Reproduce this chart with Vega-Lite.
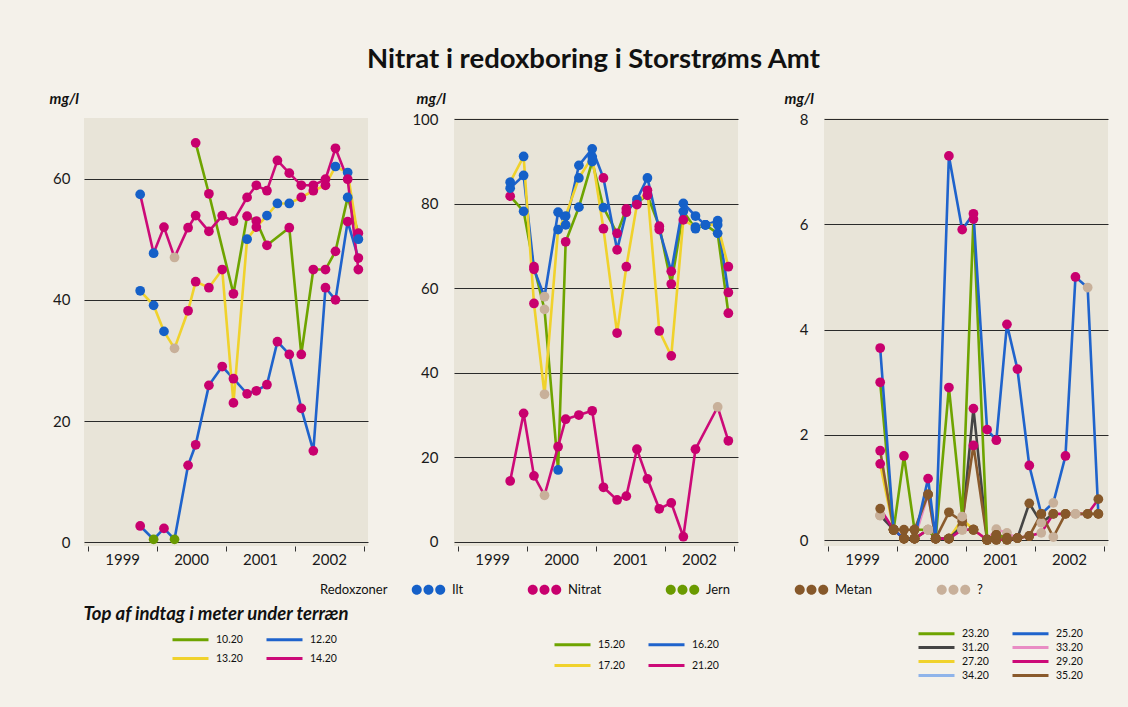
{
  "$schema": "https://vega.github.io/schema/vega-lite/v6.json",
  "background": "#f4f1ea",
  "padding": {"left": 49, "top": 45, "right": 20, "bottom": 30},
  "title": {"text": "Nitrat i redoxboring i Storstrøms Amt", "font": "Lato", "fontSize": 27.5, "fontWeight": "bold", "color": "#111111", "anchor": "middle", "offset": 18},
  "datasets": {
    "p1": [
      {"dybde":"10.20","tid":2000.56,"mgl":65.9,"zone":"Nitrat"},
      {"dybde":"10.20","tid":2000.752,"mgl":57.5,"zone":"Nitrat"},
      {"dybde":"10.20","tid":2001.108,"mgl":41.0,"zone":"Nitrat"},
      {"dybde":"10.20","tid":2001.306,"mgl":53.8,"zone":"Nitrat"},
      {"dybde":"10.20","tid":2001.44,"mgl":53.0,"zone":"Nitrat"},
      {"dybde":"10.20","tid":2001.594,"mgl":49.0,"zone":"Nitrat"},
      {"dybde":"10.20","tid":2001.918,"mgl":51.9,"zone":"Nitrat"},
      {"dybde":"10.20","tid":2002.092,"mgl":31.0,"zone":"Nitrat"},
      {"dybde":"10.20","tid":2002.267,"mgl":45.0,"zone":"Nitrat"},
      {"dybde":"10.20","tid":2002.443,"mgl":45.0,"zone":"Nitrat"},
      {"dybde":"10.20","tid":2002.588,"mgl":48.0,"zone":"Nitrat"},
      {"dybde":"10.20","tid":2002.765,"mgl":56.9,"zone":"Ilt"},
      {"dybde":"10.20","tid":2002.92,"mgl":51.0,"zone":"Nitrat"},
      {"dybde":"12.20","tid":1999.755,"mgl":2.7,"zone":"Nitrat"},
      {"dybde":"12.20","tid":1999.95,"mgl":0.5,"zone":"Jern"},
      {"dybde":"12.20","tid":2000.1,"mgl":2.3,"zone":"Nitrat"},
      {"dybde":"12.20","tid":2000.253,"mgl":0.5,"zone":"Jern"},
      {"dybde":"12.20","tid":2000.45,"mgl":12.7,"zone":"Nitrat"},
      {"dybde":"12.20","tid":2000.56,"mgl":16.1,"zone":"Nitrat"},
      {"dybde":"12.20","tid":2000.752,"mgl":25.9,"zone":"Nitrat"},
      {"dybde":"12.20","tid":2000.945,"mgl":29.0,"zone":"Nitrat"},
      {"dybde":"12.20","tid":2001.108,"mgl":27.0,"zone":"Nitrat"},
      {"dybde":"12.20","tid":2001.306,"mgl":24.5,"zone":"Nitrat"},
      {"dybde":"12.20","tid":2001.44,"mgl":25.0,"zone":"Nitrat"},
      {"dybde":"12.20","tid":2001.594,"mgl":26.0,"zone":"Nitrat"},
      {"dybde":"12.20","tid":2001.746,"mgl":33.1,"zone":"Nitrat"},
      {"dybde":"12.20","tid":2001.918,"mgl":31.0,"zone":"Nitrat"},
      {"dybde":"12.20","tid":2002.092,"mgl":22.1,"zone":"Nitrat"},
      {"dybde":"12.20","tid":2002.267,"mgl":15.1,"zone":"Nitrat"},
      {"dybde":"12.20","tid":2002.443,"mgl":42.0,"zone":"Nitrat"},
      {"dybde":"12.20","tid":2002.588,"mgl":40.0,"zone":"Nitrat"},
      {"dybde":"12.20","tid":2002.765,"mgl":52.9,"zone":"Nitrat"},
      {"dybde":"12.20","tid":2002.92,"mgl":46.9,"zone":"Nitrat"},
      {"dybde":"13.20","tid":1999.755,"mgl":41.5,"zone":"Ilt"},
      {"dybde":"13.20","tid":1999.95,"mgl":39.1,"zone":"Ilt"},
      {"dybde":"13.20","tid":2000.1,"mgl":34.8,"zone":"Ilt"},
      {"dybde":"13.20","tid":2000.253,"mgl":32.0,"zone":"?"},
      {"dybde":"13.20","tid":2000.45,"mgl":38.2,"zone":"Nitrat"},
      {"dybde":"13.20","tid":2000.56,"mgl":43.0,"zone":"Nitrat"},
      {"dybde":"13.20","tid":2000.752,"mgl":42.0,"zone":"Nitrat"},
      {"dybde":"13.20","tid":2000.945,"mgl":45.0,"zone":"Nitrat"},
      {"dybde":"13.20","tid":2001.108,"mgl":23.0,"zone":"Nitrat"},
      {"dybde":"13.20","tid":2001.306,"mgl":50.0,"zone":"Ilt"},
      {"dybde":"13.20","tid":2001.44,"mgl":52.0,"zone":"Nitrat"},
      {"dybde":"13.20","tid":2001.594,"mgl":53.9,"zone":"Ilt"},
      {"dybde":"13.20","tid":2001.746,"mgl":55.9,"zone":"Ilt"},
      {"dybde":"13.20","tid":2001.918,"mgl":55.9,"zone":"Ilt"},
      {"dybde":"13.20","tid":2002.092,"mgl":56.9,"zone":"Nitrat"},
      {"dybde":"13.20","tid":2002.267,"mgl":58.0,"zone":"Nitrat"},
      {"dybde":"13.20","tid":2002.443,"mgl":58.9,"zone":"Nitrat"},
      {"dybde":"13.20","tid":2002.588,"mgl":62.0,"zone":"Ilt"},
      {"dybde":"13.20","tid":2002.765,"mgl":61.0,"zone":"Ilt"},
      {"dybde":"13.20","tid":2002.92,"mgl":50.0,"zone":"Ilt"},
      {"dybde":"14.20","tid":1999.755,"mgl":57.4,"zone":"Ilt"},
      {"dybde":"14.20","tid":1999.95,"mgl":47.7,"zone":"Ilt"},
      {"dybde":"14.20","tid":2000.1,"mgl":52.0,"zone":"Nitrat"},
      {"dybde":"14.20","tid":2000.253,"mgl":47.0,"zone":"?"},
      {"dybde":"14.20","tid":2000.45,"mgl":51.9,"zone":"Nitrat"},
      {"dybde":"14.20","tid":2000.56,"mgl":53.9,"zone":"Nitrat"},
      {"dybde":"14.20","tid":2000.752,"mgl":51.3,"zone":"Nitrat"},
      {"dybde":"14.20","tid":2000.945,"mgl":53.9,"zone":"Nitrat"},
      {"dybde":"14.20","tid":2001.108,"mgl":53.0,"zone":"Nitrat"},
      {"dybde":"14.20","tid":2001.306,"mgl":56.9,"zone":"Nitrat"},
      {"dybde":"14.20","tid":2001.44,"mgl":58.9,"zone":"Nitrat"},
      {"dybde":"14.20","tid":2001.594,"mgl":58.0,"zone":"Nitrat"},
      {"dybde":"14.20","tid":2001.746,"mgl":63.0,"zone":"Nitrat"},
      {"dybde":"14.20","tid":2001.918,"mgl":60.9,"zone":"Nitrat"},
      {"dybde":"14.20","tid":2002.092,"mgl":58.9,"zone":"Nitrat"},
      {"dybde":"14.20","tid":2002.267,"mgl":58.9,"zone":"Nitrat"},
      {"dybde":"14.20","tid":2002.443,"mgl":59.9,"zone":"Nitrat"},
      {"dybde":"14.20","tid":2002.588,"mgl":65.0,"zone":"Nitrat"},
      {"dybde":"14.20","tid":2002.765,"mgl":59.9,"zone":"Nitrat"},
      {"dybde":"14.20","tid":2002.92,"mgl":45.0,"zone":"Nitrat"}
    ],
    "p2": [
      {"dybde":"15.20","tid":1999.755,"mgl":81.8,"zone":"Nitrat"},
      {"dybde":"15.20","tid":1999.95,"mgl":78.2,"zone":"Ilt"},
      {"dybde":"15.20","tid":2000.1,"mgl":65.1,"zone":"Nitrat"},
      {"dybde":"15.20","tid":2000.253,"mgl":55.0,"zone":"?"},
      {"dybde":"15.20","tid":2000.45,"mgl":17.0,"zone":"Ilt"},
      {"dybde":"15.20","tid":2000.56,"mgl":71.0,"zone":"Nitrat"},
      {"dybde":"15.20","tid":2000.752,"mgl":79.2,"zone":"Ilt"},
      {"dybde":"15.20","tid":2000.945,"mgl":90.0,"zone":"Ilt"},
      {"dybde":"15.20","tid":2001.108,"mgl":79.1,"zone":"Ilt"},
      {"dybde":"15.20","tid":2001.306,"mgl":73.0,"zone":"Nitrat"},
      {"dybde":"15.20","tid":2001.44,"mgl":78.8,"zone":"Nitrat"},
      {"dybde":"15.20","tid":2001.594,"mgl":80.2,"zone":"Nitrat"},
      {"dybde":"15.20","tid":2001.746,"mgl":82.0,"zone":"Nitrat"},
      {"dybde":"15.20","tid":2001.918,"mgl":74.7,"zone":"Nitrat"},
      {"dybde":"15.20","tid":2002.092,"mgl":61.0,"zone":"Nitrat"},
      {"dybde":"15.20","tid":2002.267,"mgl":78.2,"zone":"Ilt"},
      {"dybde":"15.20","tid":2002.443,"mgl":74.1,"zone":"Ilt"},
      {"dybde":"15.20","tid":2002.588,"mgl":75.0,"zone":"Ilt"},
      {"dybde":"15.20","tid":2002.765,"mgl":73.0,"zone":"Ilt"},
      {"dybde":"15.20","tid":2002.92,"mgl":54.1,"zone":"Nitrat"},
      {"dybde":"16.20","tid":1999.755,"mgl":83.7,"zone":"Ilt"},
      {"dybde":"16.20","tid":1999.95,"mgl":86.7,"zone":"Ilt"},
      {"dybde":"16.20","tid":2000.1,"mgl":64.5,"zone":"Nitrat"},
      {"dybde":"16.20","tid":2000.253,"mgl":58.0,"zone":"?"},
      {"dybde":"16.20","tid":2000.45,"mgl":78.0,"zone":"Ilt"},
      {"dybde":"16.20","tid":2000.56,"mgl":75.0,"zone":"Ilt"},
      {"dybde":"16.20","tid":2000.752,"mgl":89.1,"zone":"Ilt"},
      {"dybde":"16.20","tid":2000.945,"mgl":93.0,"zone":"Ilt"},
      {"dybde":"16.20","tid":2001.108,"mgl":86.1,"zone":"Nitrat"},
      {"dybde":"16.20","tid":2001.306,"mgl":69.1,"zone":"Nitrat"},
      {"dybde":"16.20","tid":2001.44,"mgl":78.0,"zone":"Nitrat"},
      {"dybde":"16.20","tid":2001.594,"mgl":81.0,"zone":"Ilt"},
      {"dybde":"16.20","tid":2001.746,"mgl":86.1,"zone":"Ilt"},
      {"dybde":"16.20","tid":2001.918,"mgl":73.9,"zone":"Nitrat"},
      {"dybde":"16.20","tid":2002.092,"mgl":64.0,"zone":"Nitrat"},
      {"dybde":"16.20","tid":2002.267,"mgl":80.1,"zone":"Ilt"},
      {"dybde":"16.20","tid":2002.443,"mgl":77.1,"zone":"Ilt"},
      {"dybde":"16.20","tid":2002.588,"mgl":75.0,"zone":"Ilt"},
      {"dybde":"16.20","tid":2002.765,"mgl":76.0,"zone":"Ilt"},
      {"dybde":"16.20","tid":2002.92,"mgl":59.0,"zone":"Nitrat"},
      {"dybde":"17.20","tid":1999.755,"mgl":85.1,"zone":"Ilt"},
      {"dybde":"17.20","tid":1999.95,"mgl":91.2,"zone":"Ilt"},
      {"dybde":"17.20","tid":2000.1,"mgl":56.4,"zone":"Nitrat"},
      {"dybde":"17.20","tid":2000.253,"mgl":34.9,"zone":"?"},
      {"dybde":"17.20","tid":2000.45,"mgl":73.9,"zone":"Ilt"},
      {"dybde":"17.20","tid":2000.56,"mgl":77.1,"zone":"Ilt"},
      {"dybde":"17.20","tid":2000.752,"mgl":86.1,"zone":"Ilt"},
      {"dybde":"17.20","tid":2000.945,"mgl":91.1,"zone":"Ilt"},
      {"dybde":"17.20","tid":2001.108,"mgl":74.1,"zone":"Nitrat"},
      {"dybde":"17.20","tid":2001.306,"mgl":49.4,"zone":"Nitrat"},
      {"dybde":"17.20","tid":2001.44,"mgl":65.1,"zone":"Nitrat"},
      {"dybde":"17.20","tid":2001.594,"mgl":79.8,"zone":"Nitrat"},
      {"dybde":"17.20","tid":2001.746,"mgl":83.2,"zone":"Nitrat"},
      {"dybde":"17.20","tid":2001.918,"mgl":49.9,"zone":"Nitrat"},
      {"dybde":"17.20","tid":2002.092,"mgl":44.0,"zone":"Nitrat"},
      {"dybde":"17.20","tid":2002.267,"mgl":76.2,"zone":"Nitrat"},
      {"dybde":"17.20","tid":2002.443,"mgl":74.5,"zone":"Ilt"},
      {"dybde":"17.20","tid":2002.588,"mgl":75.0,"zone":"Ilt"},
      {"dybde":"17.20","tid":2002.765,"mgl":75.0,"zone":"Ilt"},
      {"dybde":"17.20","tid":2002.92,"mgl":65.1,"zone":"Nitrat"},
      {"dybde":"21.20","tid":1999.755,"mgl":14.4,"zone":"Nitrat"},
      {"dybde":"21.20","tid":1999.95,"mgl":30.4,"zone":"Nitrat"},
      {"dybde":"21.20","tid":2000.1,"mgl":15.6,"zone":"Nitrat"},
      {"dybde":"21.20","tid":2000.253,"mgl":11.0,"zone":"?"},
      {"dybde":"21.20","tid":2000.45,"mgl":22.5,"zone":"Nitrat"},
      {"dybde":"21.20","tid":2000.56,"mgl":29.0,"zone":"Nitrat"},
      {"dybde":"21.20","tid":2000.752,"mgl":30.0,"zone":"Nitrat"},
      {"dybde":"21.20","tid":2000.945,"mgl":31.0,"zone":"Nitrat"},
      {"dybde":"21.20","tid":2001.108,"mgl":12.9,"zone":"Nitrat"},
      {"dybde":"21.20","tid":2001.306,"mgl":9.9,"zone":"Nitrat"},
      {"dybde":"21.20","tid":2001.44,"mgl":10.8,"zone":"Nitrat"},
      {"dybde":"21.20","tid":2001.594,"mgl":21.9,"zone":"Nitrat"},
      {"dybde":"21.20","tid":2001.746,"mgl":14.9,"zone":"Nitrat"},
      {"dybde":"21.20","tid":2001.918,"mgl":7.8,"zone":"Nitrat"},
      {"dybde":"21.20","tid":2002.092,"mgl":9.2,"zone":"Nitrat"},
      {"dybde":"21.20","tid":2002.267,"mgl":1.2,"zone":"Nitrat"},
      {"dybde":"21.20","tid":2002.443,"mgl":21.9,"zone":"Nitrat"},
      {"dybde":"21.20","tid":2002.765,"mgl":31.9,"zone":"?"},
      {"dybde":"21.20","tid":2002.92,"mgl":23.9,"zone":"Nitrat"}
    ],
    "p3": [
      {"dybde":"34.20","tid":1999.755,"mgl":0.47,"zone":"?"},
      {"dybde":"34.20","tid":1999.95,"mgl":0.2,"zone":"Metan"},
      {"dybde":"34.20","tid":2000.1,"mgl":0.03,"zone":"Metan"},
      {"dybde":"34.20","tid":2000.253,"mgl":0.03,"zone":"Metan"},
      {"dybde":"34.20","tid":2000.45,"mgl":0.2,"zone":"?"},
      {"dybde":"34.20","tid":2000.56,"mgl":0.03,"zone":"Metan"},
      {"dybde":"34.20","tid":2000.752,"mgl":0.03,"zone":"Metan"},
      {"dybde":"34.20","tid":2000.945,"mgl":0.2,"zone":"?"},
      {"dybde":"34.20","tid":2001.108,"mgl":0.2,"zone":"Metan"},
      {"dybde":"34.20","tid":2001.306,"mgl":0.01,"zone":"Metan"},
      {"dybde":"34.20","tid":2001.44,"mgl":0.1,"zone":"Metan"},
      {"dybde":"33.20","tid":1999.755,"mgl":0.47,"zone":"?"},
      {"dybde":"33.20","tid":1999.95,"mgl":0.2,"zone":"Metan"},
      {"dybde":"33.20","tid":2000.1,"mgl":0.03,"zone":"Metan"},
      {"dybde":"33.20","tid":2000.253,"mgl":0.03,"zone":"Metan"},
      {"dybde":"33.20","tid":2000.45,"mgl":0.87,"zone":"Metan"},
      {"dybde":"33.20","tid":2000.56,"mgl":0.03,"zone":"Metan"},
      {"dybde":"33.20","tid":2000.752,"mgl":0.03,"zone":"Metan"},
      {"dybde":"33.20","tid":2000.945,"mgl":0.2,"zone":"?"},
      {"dybde":"33.20","tid":2001.108,"mgl":0.2,"zone":"Metan"},
      {"dybde":"33.20","tid":2001.306,"mgl":0.01,"zone":"Metan"},
      {"dybde":"33.20","tid":2001.44,"mgl":0.21,"zone":"?"},
      {"dybde":"33.20","tid":2001.594,"mgl":0.14,"zone":"?"},
      {"dybde":"33.20","tid":2001.746,"mgl":0.04,"zone":"Metan"},
      {"dybde":"27.20","tid":1999.755,"mgl":1.45,"zone":"Nitrat"},
      {"dybde":"27.20","tid":1999.95,"mgl":0.2,"zone":"Metan"},
      {"dybde":"27.20","tid":2000.1,"mgl":0.03,"zone":"Metan"},
      {"dybde":"27.20","tid":2000.253,"mgl":0.03,"zone":"Metan"},
      {"dybde":"27.20","tid":2000.45,"mgl":0.2,"zone":"?"},
      {"dybde":"27.20","tid":2000.56,"mgl":0.03,"zone":"Metan"},
      {"dybde":"27.20","tid":2000.752,"mgl":0.03,"zone":"Metan"},
      {"dybde":"27.20","tid":2000.945,"mgl":0.4,"zone":"?"},
      {"dybde":"27.20","tid":2001.108,"mgl":0.2,"zone":"Metan"},
      {"dybde":"27.20","tid":2001.306,"mgl":0.01,"zone":"Metan"},
      {"dybde":"27.20","tid":2001.44,"mgl":0.01,"zone":"Metan"},
      {"dybde":"31.20","tid":1999.755,"mgl":0.47,"zone":"?"},
      {"dybde":"31.20","tid":1999.95,"mgl":0.2,"zone":"Metan"},
      {"dybde":"31.20","tid":2000.1,"mgl":0.03,"zone":"Metan"},
      {"dybde":"31.20","tid":2000.253,"mgl":0.03,"zone":"Metan"},
      {"dybde":"31.20","tid":2000.45,"mgl":0.2,"zone":"?"},
      {"dybde":"31.20","tid":2000.56,"mgl":0.03,"zone":"Metan"},
      {"dybde":"31.20","tid":2000.752,"mgl":0.03,"zone":"Metan"},
      {"dybde":"31.20","tid":2000.945,"mgl":0.27,"zone":"Metan"},
      {"dybde":"31.20","tid":2001.108,"mgl":2.5,"zone":"Nitrat"},
      {"dybde":"31.20","tid":2001.306,"mgl":0.01,"zone":"Metan"},
      {"dybde":"31.20","tid":2001.44,"mgl":0.01,"zone":"Metan"},
      {"dybde":"31.20","tid":2001.594,"mgl":0.01,"zone":"Metan"},
      {"dybde":"31.20","tid":2001.746,"mgl":0.04,"zone":"Metan"},
      {"dybde":"31.20","tid":2001.918,"mgl":0.7,"zone":"Metan"},
      {"dybde":"31.20","tid":2002.092,"mgl":0.33,"zone":"?"},
      {"dybde":"31.20","tid":2002.267,"mgl":0.5,"zone":"Metan"},
      {"dybde":"29.20","tid":1999.755,"mgl":0.6,"zone":"Metan"},
      {"dybde":"29.20","tid":1999.95,"mgl":0.2,"zone":"Metan"},
      {"dybde":"29.20","tid":2000.1,"mgl":0.03,"zone":"Metan"},
      {"dybde":"29.20","tid":2000.253,"mgl":0.03,"zone":"Metan"},
      {"dybde":"29.20","tid":2000.45,"mgl":0.2,"zone":"?"},
      {"dybde":"29.20","tid":2000.56,"mgl":0.03,"zone":"Metan"},
      {"dybde":"29.20","tid":2000.752,"mgl":0.03,"zone":"Metan"},
      {"dybde":"29.20","tid":2000.945,"mgl":0.2,"zone":"?"},
      {"dybde":"29.20","tid":2001.108,"mgl":0.2,"zone":"Metan"},
      {"dybde":"29.20","tid":2001.306,"mgl":0.01,"zone":"Metan"},
      {"dybde":"29.20","tid":2001.44,"mgl":0.01,"zone":"Metan"},
      {"dybde":"29.20","tid":2001.594,"mgl":0.01,"zone":"Metan"},
      {"dybde":"29.20","tid":2001.746,"mgl":0.04,"zone":"Metan"},
      {"dybde":"29.20","tid":2001.918,"mgl":0.08,"zone":"Metan"},
      {"dybde":"29.20","tid":2002.092,"mgl":0.14,"zone":"?"},
      {"dybde":"29.20","tid":2002.267,"mgl":0.5,"zone":"Metan"},
      {"dybde":"29.20","tid":2002.443,"mgl":0.5,"zone":"Metan"},
      {"dybde":"29.20","tid":2002.588,"mgl":0.5,"zone":"?"},
      {"dybde":"29.20","tid":2002.765,"mgl":0.5,"zone":"Metan"},
      {"dybde":"29.20","tid":2002.92,"mgl":0.78,"zone":"Metan"},
      {"dybde":"35.20","tid":1999.755,"mgl":1.7,"zone":"Nitrat"},
      {"dybde":"35.20","tid":1999.95,"mgl":0.2,"zone":"Metan"},
      {"dybde":"35.20","tid":2000.1,"mgl":0.2,"zone":"Metan"},
      {"dybde":"35.20","tid":2000.253,"mgl":0.2,"zone":"Metan"},
      {"dybde":"35.20","tid":2000.45,"mgl":0.87,"zone":"Metan"},
      {"dybde":"35.20","tid":2000.56,"mgl":0.03,"zone":"Metan"},
      {"dybde":"35.20","tid":2000.752,"mgl":0.53,"zone":"Metan"},
      {"dybde":"35.20","tid":2000.945,"mgl":0.36,"zone":"Metan"},
      {"dybde":"35.20","tid":2001.108,"mgl":1.8,"zone":"Nitrat"},
      {"dybde":"35.20","tid":2001.306,"mgl":0.01,"zone":"Metan"},
      {"dybde":"35.20","tid":2001.44,"mgl":0.1,"zone":"Metan"},
      {"dybde":"35.20","tid":2001.594,"mgl":0.01,"zone":"Metan"},
      {"dybde":"35.20","tid":2001.746,"mgl":0.04,"zone":"Metan"},
      {"dybde":"35.20","tid":2001.918,"mgl":0.08,"zone":"Metan"},
      {"dybde":"35.20","tid":2002.092,"mgl":0.5,"zone":"Metan"},
      {"dybde":"35.20","tid":2002.267,"mgl":0.06,"zone":"?"},
      {"dybde":"35.20","tid":2002.443,"mgl":0.5,"zone":"Metan"},
      {"dybde":"35.20","tid":2002.588,"mgl":0.5,"zone":"?"},
      {"dybde":"35.20","tid":2002.765,"mgl":0.5,"zone":"Metan"},
      {"dybde":"35.20","tid":2002.92,"mgl":0.5,"zone":"Metan"},
      {"dybde":"23.20","tid":1999.755,"mgl":3.0,"zone":"Nitrat"},
      {"dybde":"23.20","tid":1999.95,"mgl":0.2,"zone":"Metan"},
      {"dybde":"23.20","tid":2000.1,"mgl":1.6,"zone":"Nitrat"},
      {"dybde":"23.20","tid":2000.253,"mgl":0.2,"zone":"Metan"},
      {"dybde":"23.20","tid":2000.45,"mgl":0.2,"zone":"?"},
      {"dybde":"23.20","tid":2000.56,"mgl":0.03,"zone":"Metan"},
      {"dybde":"23.20","tid":2000.752,"mgl":2.9,"zone":"Nitrat"},
      {"dybde":"23.20","tid":2000.945,"mgl":0.45,"zone":"?"},
      {"dybde":"23.20","tid":2001.108,"mgl":6.1,"zone":"Nitrat"},
      {"dybde":"23.20","tid":2001.306,"mgl":0.01,"zone":"Metan"},
      {"dybde":"23.20","tid":2001.44,"mgl":0.1,"zone":"Metan"},
      {"dybde":"23.20","tid":2001.594,"mgl":0.05,"zone":"Metan"},
      {"dybde":"25.20","tid":1999.755,"mgl":3.65,"zone":"Nitrat"},
      {"dybde":"25.20","tid":1999.95,"mgl":0.2,"zone":"Metan"},
      {"dybde":"25.20","tid":2000.1,"mgl":0.03,"zone":"Metan"},
      {"dybde":"25.20","tid":2000.253,"mgl":0.03,"zone":"Metan"},
      {"dybde":"25.20","tid":2000.45,"mgl":1.17,"zone":"Nitrat"},
      {"dybde":"25.20","tid":2000.56,"mgl":0.03,"zone":"Metan"},
      {"dybde":"25.20","tid":2000.752,"mgl":7.3,"zone":"Nitrat"},
      {"dybde":"25.20","tid":2000.945,"mgl":5.9,"zone":"Nitrat"},
      {"dybde":"25.20","tid":2001.108,"mgl":6.2,"zone":"Nitrat"},
      {"dybde":"25.20","tid":2001.306,"mgl":2.1,"zone":"Nitrat"},
      {"dybde":"25.20","tid":2001.44,"mgl":1.9,"zone":"Nitrat"},
      {"dybde":"25.20","tid":2001.594,"mgl":4.1,"zone":"Nitrat"},
      {"dybde":"25.20","tid":2001.746,"mgl":3.25,"zone":"Nitrat"},
      {"dybde":"25.20","tid":2001.918,"mgl":1.42,"zone":"Nitrat"},
      {"dybde":"25.20","tid":2002.092,"mgl":0.5,"zone":"Metan"},
      {"dybde":"25.20","tid":2002.267,"mgl":0.71,"zone":"?"},
      {"dybde":"25.20","tid":2002.443,"mgl":1.6,"zone":"Nitrat"},
      {"dybde":"25.20","tid":2002.588,"mgl":5.0,"zone":"Nitrat"},
      {"dybde":"25.20","tid":2002.765,"mgl":4.8,"zone":"?"},
      {"dybde":"25.20","tid":2002.92,"mgl":0.5,"zone":"Metan"}
    ]
  },
  "spacing": 86,
  "bounds": "flush",
  "resolve": {"scale": {"stroke": "independent"}, "legend": {"stroke": "independent"}},
  "hconcat": [
    {
      "width": 284, "height": 428,
      "data": {"name": "p1"},
      "layer": [
        {
          "mark": {"type": "line", "strokeWidth": 2.6},
          "encoding": {
            "x": {"field": "tid", "type": "quantitative", "scale": {"domain": [1998.94, 2003.06], "nice": false, "zero": false},
              "axis": {"title": "Top af indtag i meter under terræn", "titleX": -1, "titleY": 67, "titleAlign": "left", "titleAnchor": "start", "titleBaseline": "middle", "titleFontSize": 18.5, "titleFontStyle": "italic", "titleFontWeight": "bold",
                "values": [1999, 2000, 2001, 2002, 2003], "format": "d", "labelExpr": "datum.value == 2003 ? '' : datum.label", "labelOffset": 34, "domain": false, "grid": false, "tickSize": 5, "tickColor": "#333333", "labelPadding": 1, "labelOverlap": false, "labelFlush": false, "labelBound": false}},
            "y": {"field": "mgl", "type": "quantitative", "scale": {"domain": [-0.6, 70], "nice": false, "zero": false},
              "axis": {"title": "mg/l", "titleAngle": 0, "titleX": -35, "titleY": -20, "titleAlign": "left", "titleBaseline": "middle", "titleFontSize": 15, "titleFontStyle": "italic", "titleFontWeight": "bold",
                "values": [0, 20, 40, 60], "domain": false, "ticks": false, "grid": true, "gridColor": "#2a2a2a", "gridWidth": 1.2, "labelPadding": 14}},
            "stroke": {"field": "dybde", "type": "nominal",
              "scale": {"domain": ["10.20", "12.20", "13.20", "14.20"], "range": ["#6ea400", "#1f63cc", "#f0d22c", "#cc0a78"]},
              "legend": {"orient": "none", "legendX": 87, "legendY": 514, "direction": "horizontal", "title": null, "columns": 2, "symbolType": "M-3,0L3,0", "symbolSize": 144, "symbolStrokeWidth": 3, "symbolOffset": 12, "labelFontSize": 10.5, "labelColor": "#111111", "labelOffset": 18, "columnPadding": 17, "rowPadding": 5}}
          }
        },
        {
          "mark": {"type": "point", "filled": true, "size": 95, "opacity": 1, "strokeWidth": 0},
          "encoding": {
            "x": {"field": "tid", "type": "quantitative", "scale": {"domain": [1998.94, 2003.06], "nice": false, "zero": false}},
            "y": {"field": "mgl", "type": "quantitative", "scale": {"domain": [-0.6, 70], "nice": false, "zero": false}},
            "fill": {"field": "zone", "type": "nominal",
              "scale": {"domain": ["Ilt", "Nitrat", "Jern", "Metan", "?"], "range": ["#1560c8", "#c8006e", "#6a9a00", "#86582a", "#c8b09a"]},
              "legend": {"orient": "none", "legendX": 236, "legendY": 465, "direction": "horizontal", "title": "Redoxzoner", "titleOrient": "left", "titleFontWeight": "normal", "titleFontSize": 13, "titleColor": "#111111", "titlePadding": 22, "labelFontSize": 13, "labelColor": "#111111",
                "symbolType": "M-3.35,0a1,1 0 1,0 2,0a1,1 0 1,0 -2,0M-1,0a1,1 0 1,0 2,0a1,1 0 1,0 -2,0M1.35,0a1,1 0 1,0 2,0a1,1 0 1,0 -2,0",
                "symbolSize": 100, "symbolStrokeWidth": 0, "symbolOffset": 12, "labelOffset": 17, "columnPadding": 62}}
          }
        }
      ]
    },
    {
      "width": 284, "height": 428,
      "data": {"name": "p2"},
      "layer": [
        {
          "mark": {"type": "line", "strokeWidth": 2.6},
          "encoding": {
            "x": {"field": "tid", "type": "quantitative", "scale": {"domain": [1998.94, 2003.06], "nice": false, "zero": false},
              "axis": {"title": null, "values": [1999, 2000, 2001, 2002, 2003], "format": "d", "labelExpr": "datum.value == 2003 ? '' : datum.label", "labelOffset": 34, "domain": false, "grid": false, "tickSize": 5, "tickColor": "#333333", "labelPadding": 1, "labelOverlap": false, "labelFlush": false, "labelBound": false}},
            "y": {"field": "mgl", "type": "quantitative", "scale": {"domain": [-1, 100.3], "nice": false, "zero": false},
              "axis": {"title": "mg/l", "titleAngle": 0, "titleX": -38, "titleY": -20, "titleAlign": "left", "titleBaseline": "middle", "titleFontSize": 15, "titleFontStyle": "italic", "titleFontWeight": "bold",
                "values": [0, 20, 40, 60, 80, 100], "domain": false, "ticks": false, "grid": true, "gridColor": "#2a2a2a", "gridWidth": 1.2, "labelPadding": 16}},
            "stroke": {"field": "dybde", "type": "nominal",
              "scale": {"domain": ["15.20", "16.20", "17.20", "21.20"], "range": ["#6ea400", "#1f63cc", "#f0d22c", "#cc0a78"]},
              "legend": {"orient": "none", "legendX": 99, "legendY": 519, "direction": "horizontal", "title": null, "columns": 2, "symbolType": "M-3,0L3,0", "symbolSize": 144, "symbolStrokeWidth": 3, "symbolOffset": 12, "labelFontSize": 10.5, "labelColor": "#111111", "labelOffset": 18, "columnPadding": 17, "rowPadding": 7}}
          }
        },
        {
          "mark": {"type": "point", "filled": true, "size": 95, "opacity": 1, "strokeWidth": 0},
          "encoding": {
            "x": {"field": "tid", "type": "quantitative", "scale": {"domain": [1998.94, 2003.06], "nice": false, "zero": false}},
            "y": {"field": "mgl", "type": "quantitative", "scale": {"domain": [-1, 100.3], "nice": false, "zero": false}},
            "fill": {"field": "zone", "type": "nominal",
              "scale": {"domain": ["Ilt", "Nitrat", "Jern", "Metan", "?"], "range": ["#1560c8", "#c8006e", "#6a9a00", "#86582a", "#c8b09a"]}}
          }
        }
      ]
    },
    {
      "width": 284, "height": 428,
      "data": {"name": "p3"},
      "layer": [
        {
          "mark": {"type": "line", "strokeWidth": 2.6},
          "encoding": {
            "x": {"field": "tid", "type": "quantitative", "scale": {"domain": [1998.94, 2003.06], "nice": false, "zero": false},
              "axis": {"title": null, "values": [1999, 2000, 2001, 2002, 2003], "format": "d", "labelExpr": "datum.value == 2003 ? '' : datum.label", "labelOffset": 34, "domain": false, "grid": false, "tickSize": 5, "tickColor": "#333333", "labelPadding": 1, "labelOverlap": false, "labelFlush": false, "labelBound": false}},
            "y": {"field": "mgl", "type": "quantitative", "scale": {"domain": [-0.11, 8.02], "nice": false, "zero": false},
              "axis": {"title": "mg/l", "titleAngle": 0, "titleX": -40, "titleY": -20, "titleAlign": "left", "titleBaseline": "middle", "titleFontSize": 15, "titleFontStyle": "italic", "titleFontWeight": "bold",
                "values": [0, 2, 4, 6, 8], "domain": false, "ticks": false, "grid": true, "gridColor": "#2a2a2a", "gridWidth": 1.2, "labelPadding": 16}},
            "stroke": {"field": "dybde", "type": "nominal",
              "scale": {"domain": ["23.20", "25.20", "31.20", "33.20", "27.20", "29.20", "34.20", "35.20"], "range": ["#6ea400", "#1f63cc", "#444444", "#e98cc4", "#f0d22c", "#cc0a78", "#8fb4ea", "#8a5a2c"]},
              "legend": {"orient": "none", "legendX": 93, "legendY": 508, "direction": "horizontal", "title": null, "columns": 2, "symbolType": "M-3,0L3,0", "symbolSize": 144, "symbolStrokeWidth": 3, "symbolOffset": 12, "labelFontSize": 10.5, "labelColor": "#111111", "labelOffset": 18, "columnPadding": 17, "rowPadding": 0}}
          }
        },
        {
          "mark": {"type": "point", "filled": true, "size": 95, "opacity": 1, "strokeWidth": 0},
          "encoding": {
            "x": {"field": "tid", "type": "quantitative", "scale": {"domain": [1998.94, 2003.06], "nice": false, "zero": false}},
            "y": {"field": "mgl", "type": "quantitative", "scale": {"domain": [-0.11, 8.02], "nice": false, "zero": false}},
            "fill": {"field": "zone", "type": "nominal",
              "scale": {"domain": ["Ilt", "Nitrat", "Jern", "Metan", "?"], "range": ["#1560c8", "#c8006e", "#6a9a00", "#86582a", "#c8b09a"]}}
          }
        }
      ]
    }
  ],
  "config": {
    "font": "Lato",
    "view": {"fill": "#e8e4d8", "stroke": null},
    "axis": {"labelFont": "Lato", "labelColor": "#1a1a1a", "labelFontSize": 15, "titleFont": "Lato", "titleColor": "#111111"},
    "legend": {"labelFont": "Lato", "titleFont": "Lato", "padding": 0}
  }
}
